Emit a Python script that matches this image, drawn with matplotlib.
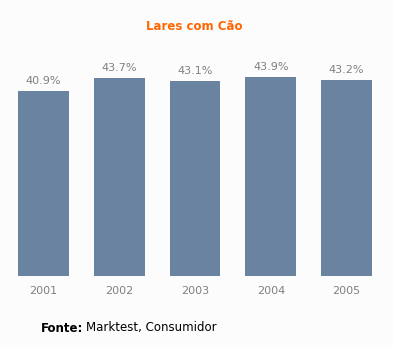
import matplotlib.pyplot as plt
import numpy as np

anos = ['2001', '2002', '2003', '2004', '2005']
valores = [40.9, 43.7, 43.1, 43.9, 43.2]
rotulos = ['40.9%', '43.7%', '43.1%', '43.9%', '43.2%']

fundo = '#fcfcfc'
cor_barra = '#6983a0'
cinza = '#808080'

fig = plt.figure(figsize=(3.93, 3.47), dpi=100, facecolor=fundo)
# eixo ocupa a largura toda, base das barras em y=276px
ax = fig.add_axes([0, (347 - 276) / 347, 1, 226.5 / 347])
ax.set_facecolor(fundo)

x = np.arange(len(anos))
ax.bar(x, valores, width=0.673, color=cor_barra)

for xi, v, r in zip(x, valores, rotulos):
    ax.annotate(r, (xi, v), xytext=(0, 10), textcoords='offset pixels',
                ha='center', va='center', fontsize=8, color=cinza)

ax.set_xlim(-43.5 / 75.75, (393 - 43.5) / 75.75)
ax.set_ylim(0, 50)
ax.set_xticks(x)
ax.set_xticklabels(anos, fontsize=8, color=cinza)
ax.tick_params(axis='x', length=0, pad=7)
ax.set_yticks([])
for s in ax.spines.values():
    s.set_visible(False)

fig.text(194 / 393, 1 - 27 / 347, 'Lares com Cão', ha='center', va='center',
         fontsize=8.5, fontweight='bold', color='#ff6600')
fig.text(41 / 393, 1 - 328 / 347, 'Fonte:', ha='left', va='center',
         fontsize=8.5, fontweight='bold', color='black')
fig.text(86 / 393, 1 - 328 / 347, 'Marktest, Consumidor', ha='left', va='center',
         fontsize=8.5, color='black')

plt.savefig('out.png', dpi=100, facecolor=fundo)
